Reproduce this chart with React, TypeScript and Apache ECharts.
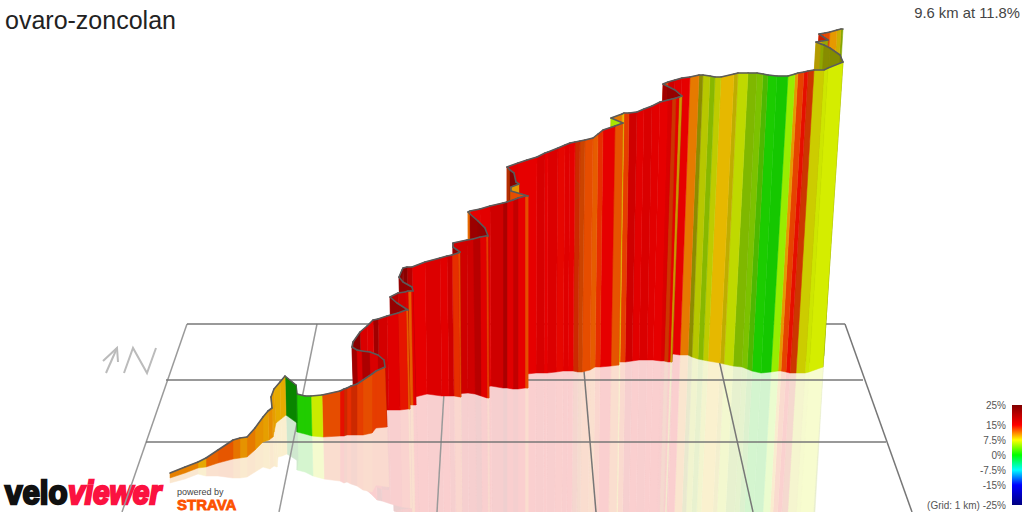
import { useEffect, useRef } from "react";
import * as echarts from "echarts";

// one row per ribbon vertex, in route order: [topX, topY, baseX, baseY, grade %, light]
// grade/light colour the strip from this vertex to the next one
type Vertex = [number, number, number, number, number, number?];

const startRamp: Vertex[] = [
  [170, 473, 170, 478, 10.8], [185, 467, 185, 473, 10.8], [198, 462, 198, 468, 9.5],
  [206, 458, 206, 467, 11.8], [218, 450, 218, 463, 12.2], [233, 440, 233, 459, 11.2],
  [240, 438, 240, 458, 10.2], [247, 437, 247, 457, 11], [255, 428, 255, 450, 10.2],
  [263, 417, 263, 442, 9.8], [268, 411, 269, 440, 10.4], [272, 408, 273, 437, 9.8],
  [271, 397, 274, 432, 9.8], [274, 389, 276, 423, 9.4], [280, 382, 281, 419, 9.4],
];
const firstDrop: Vertex[] = [
  [285, 376, 286, 415, 0.5, 0.52], [296, 385, 297, 423, 0.5, 0.52], [297, 394, 297, 432, 1.2, 0.8],
  [305, 396, 305, 434, 1.2, 0.8], [311, 396, 312, 436, 6.5, 0.92], [322, 395, 323, 437, 12.5],
  [340, 391, 340, 436, 14.5], [344, 389, 344, 436, 13.5, 0.8], [347, 388, 347, 435, 13.5],
  [351, 386, 351, 435, 13.5, 0.8], [357, 384, 357, 435, 13], [363, 380, 363, 435, 12.5],
  [372, 374, 372, 433, 13], [376, 371, 376, 428, 13],
];
const hairpin1: Vertex[] = [
  [385, 367, 387, 427, 22], [384, 360, 386, 425, 19], [378, 355, 380, 422, 16],
  [370, 352, 372, 419, 20], [362, 351, 364, 417, 16], [357, 350, 359, 415, 21],
  [352, 347, 354, 412, 23],
];
const leg2: Vertex[] = [
  [353, 342, 355, 410, 23], [360, 332, 362, 410, 16], [367, 326, 369, 410, 15.3],
  [373, 320, 375, 410, 21], [378, 319, 380, 410, 16.5], [387, 316, 389, 410, 15.5],
  [398, 313, 400, 410, 14.3], [406, 310, 408, 409, 12],
];
const hairpin2: Vertex[] = [
  [408, 310, 410, 409, 22], [397, 303, 399, 406, 22],
];
const leg3: Vertex[] = [
  [390, 297, 392, 404, 19], [398, 293, 400, 404, 17], [405, 292, 407, 404, 16],
  [408, 291, 410, 405, 12], [411, 291, 413, 405, 15.3],
];
const hairpin3: Vertex[] = [
  [413, 291, 416, 405, 22], [412, 287, 415, 403, 22], [403, 282, 406, 401, 22],
  [399, 277, 402, 400, 23], [402, 270, 405, 399, 23],
];
const leg4: Vertex[] = [
  [403, 268, 406, 398, 23], [407, 267, 410, 398, 19], [412, 267, 415, 397, 15],
  [425, 262, 427, 394, 15.8], [440, 258, 442, 396, 15.3], [447, 256, 449, 396, 17],
  [452, 255, 454, 396, 13.5], [458, 253, 460, 397, 12.5],
];
const hairpin4: Vertex[] = [
  [460, 252, 461, 397, 22], [453, 247, 455, 395, 22],
];
const leg5: Vertex[] = [
  [453, 243, 455, 394, 17], [467, 240, 468, 393, 17], [473, 239, 475, 394, 19],
  [480, 237, 481, 396, 15.5], [486, 236, 487, 398, 13],
];
const hairpin5: Vertex[] = [
  [488, 236, 489, 398, 22.5], [485, 228, 486, 396, 22], [478, 221, 479, 394, 21.5],
  [470, 214, 471, 392, 11.5],
];
const leg6: Vertex[] = [
  [468, 212, 469, 390, 11.5], [470, 211, 471, 390, 15], [480, 209, 481, 388, 15.2],
  [490, 206, 491, 386, 17], [503, 203, 503, 388, 20], [507, 202, 507, 388, 15.5],
  [513, 200, 513, 389, 18], [518, 198, 518, 389, 15], [525, 196, 525, 388, 12.5],
];
const hairpin6: Vertex[] = [
  [528, 196, 528, 388, 12.5], [511, 191, 511, 386, 10], [511, 187, 511, 385, 10],
  [519, 184, 519, 385, 22, 0.8], [516, 182, 516, 384, 22, 0.8], [514, 173, 514, 382, 22, 0.8],
  [510, 170, 510, 381, 13, 0.7],
];
const leg7: Vertex[] = [
  [507, 167, 507, 380, 15.5], [518, 163, 518, 377, 15], [527, 160, 527, 374, 15],
  [537, 157, 536, 373, 16.2], [545, 153, 544, 373, 15], [548, 152, 547, 373, 15.8],
  [558, 148, 556, 372, 14.8], [565, 145, 563, 371, 15.5], [570, 143, 568, 371, 15],
  [575, 142, 573, 371, 13.5, 0.8], [580, 141, 578, 372, 12.5, 0.8], [585, 140, 582, 372, 12.5],
  [593, 138, 590, 370, 12], [598, 134, 595, 367, 13.5], [603, 130, 600, 367, 15],
  [615, 126, 611, 366, 12.3],
];
const hairpin7: Vertex[] = [
  [623, 123, 619, 365, 5.5],
];
const leg8: Vertex[] = [
  [611, 118, 607, 360, 11], [622, 114, 618, 361, 9], [624, 113, 620, 362, 13],
  [629, 113, 625, 362, 17], [637, 112, 632, 361, 15.3], [644, 109, 639, 360, 16],
  [652, 106, 647, 360, 15.3], [660, 102, 653, 360, 15], [668, 100, 661, 361, 16],
  [672, 99, 664, 361, 13, 0.8], [676, 98, 668, 362, 15], [679, 97, 670, 362, 9.5, 0.8],
];
const hairpin8: Vertex[] = [
  [682, 96, 672, 362, 22], [675, 90, 665, 360, 22], [667, 86, 658, 358, 21],
];
const finalLeg: Vertex[] = [
  [663, 84, 655, 357, 13], [668, 82, 660, 357, 17], [675, 80, 666, 358, 15.5],
  [682, 78, 673, 354, 15], [690, 77, 680, 355, 11], [699, 75, 688, 355, 7.5, 0.55],
  [703, 75, 692, 357, 6.9, 0.78], [710, 76, 698, 359, 5.5, 0.72], [715, 77, 703, 360, 7, 0.8],
  [721, 77, 708, 361, 9], [734, 74, 720, 363, 8.2, 0.75], [738, 73, 724, 364, 6.6, 0.85],
  [748, 73, 733, 366, 5.2, 0.72], [757, 73, 742, 367, 4.8, 0.76], [763, 74, 747, 369, 3.2, 0.72],
  [768, 75, 752, 371, 1, 0.8], [777, 76, 761, 373, 0.8, 0.78], [788, 76, 771, 372, 4.8, 0.93],
  [795, 74, 778, 371, 10], [798, 73, 781, 371, 12.8], [804, 72, 786, 372, 14.5],
  [808, 71, 790, 373, 13, 0.8], [814, 70, 796, 373, 7.5, 0.8], [824, 70, 805, 373, 6.7, 0.9],
  [828, 68, 809, 372, 6.7, 0.93],
];
const topHairpin: Vertex[] = [
  [843, 62, 823, 367, 7, 0.5], [840, 55, 820, 365, 7, 0.55], [830, 48, 811, 363, 7.2, 0.55],
  [824, 45, 805, 361, 6.5, 0.65], [821, 44, 802, 360, 8.5, 0.7],
];
const summitLegs: Vertex[] = [
  [816, 42, 797, 358, 9, 0.8], [822, 41, 803, 358, 7, 0.65], [828, 40, 809, 358, 14, 0.8],
  [819, 34, 800, 356, 13], [825, 33, 806, 356, 12.5], [830, 32, 811, 356, 10],
  [837, 30, 818, 356, 8.5, 0.8], [841, 29, 822, 356, 6, 0.65], [843, 29, 824, 356, 6, 0.65],
];

const route: Vertex[] = [
  ...startRamp, ...firstDrop, ...hairpin1, ...leg2, ...hairpin2, ...leg3, ...hairpin3, ...leg4,
  ...hairpin4, ...leg5, ...hairpin5, ...leg6, ...hairpin6, ...leg7, ...hairpin7, ...leg8,
  ...hairpin8, ...finalLeg, ...topHairpin, ...summitLegs,
];

// ground grid, [x1, y1, x2, y2]
const gridRows = [
  [187, 324, 845, 324],
  [166, 380, 863, 380],
  [146, 442, 886, 442],
];
const gridCols = [
  [187, 324, 122, 512],
  [317, 324, 279, 512],
  [448, 324, 437, 512],
  [580, 324, 596, 512],
  [711, 324, 753, 512],
  [845, 324, 912, 512],
];

const scaleGrades = [-25, -15, -7.5, 0, 7.5, 15, 25];
const scaleColors = ["#000080", "#0000ff", "#00ffff", "#00ff00", "#ffff00", "#ff0000", "#800000"];
const scaleLabels = ["25%", "15%", "7.5%", "0%", "-7.5%", "-15%", "(Grid: 1 km) -25%"];
const scaleTicks = [25, 15, 7.5, 0, -7.5, -15, -25];

const FONT = "'Liberation Sans', Arial, sans-serif";
const BAR_TOP = 405;
const BAR_HEIGHT = 100;

function gradeRgb(grade: number, light: number) {
  let i = 0;
  while (i < scaleGrades.length - 2 && grade > scaleGrades[i + 1]) i++;
  const t = (grade - scaleGrades[i]) / (scaleGrades[i + 1] - scaleGrades[i]);
  const a = echarts.color.parse(scaleColors[i]);
  const b = echarts.color.parse(scaleColors[i + 1]);
  return [0, 1, 2].map((k) => (a[k] + (b[k] - a[k]) * t) * light);
}

const css = (c: number[]) => `rgb(${c.map(Math.round).join(",")})`;

// strips are drawn from the far end of the climb to the start, so nearer legs cover farther ones
const strips = route
  .slice(0, -1)
  .map((v, i) => {
    const n = route[i + 1];
    return [v[0], v[1], v[2], v[3], n[0], n[1], n[2], n[3], v[4], v[5] ?? 0.9];
  })
  .reverse();

const renderWall = (_: any, api: any) => {
  const t0 = api.coord([api.value(0), api.value(1)]);
  const b0 = api.coord([api.value(2), api.value(3)]);
  const t1 = api.coord([api.value(4), api.value(5)]);
  const b1 = api.coord([api.value(6), api.value(7)]);
  const fill = css(gradeRgb(api.value(8), api.value(9)));
  return {
    type: "group",
    children: [
      {
        type: "polygon",
        shape: { points: [t0, t1, b1, b0] },
        style: { fill, stroke: fill, lineWidth: 0.5 },
      },
      {
        type: "line",
        shape: { x1: t0[0], y1: t0[1], x2: t1[0], y2: t1[1] },
        style: { stroke: "#5a5a5a", lineWidth: 1.6, lineCap: "round" },
      },
    ],
  };
};

// the wall mirrored through its foot, washed out towards white
const renderMirror = (_: any, api: any) => {
  const t0 = [api.value(0), api.value(1)];
  const b0 = [api.value(2), api.value(3)];
  const t1 = [api.value(4), api.value(5)];
  const b1 = [api.value(6), api.value(7)];
  const m0 = [2 * b0[0] - t0[0], 2 * b0[1] - t0[1]];
  const m1 = [2 * b1[0] - t1[0], 2 * b1[1] - t1[1]];
  const rgb = gradeRgb(api.value(8), api.value(9)).map((c) => 255 - (255 - c) * 0.19);
  const fill = css(rgb);
  return {
    type: "polygon",
    shape: { points: [b0, b1, m1, m0].map((p) => api.coord(p)) },
    style: { fill, stroke: fill, lineWidth: 0.5 },
  };
};

const renderGridLine = (_: any, api: any) => {
  const a = api.coord([api.value(0), api.value(1)]);
  const b = api.coord([api.value(2), api.value(3)]);
  return {
    type: "line",
    shape: { x1: a[0], y1: a[1], x2: b[0], y2: b[1] },
    style: { stroke: api.value(4) || api.value(0) > 500 ? "#777777" : "#9a9a9a", lineWidth: 1.5 },
  };
};

const tx = (text: string, x: number, y: number, size: number, color: string, align = "left") => ({
  type: "text",
  x,
  y,
  silent: true,
  style: { text, fontFamily: FONT, fontSize: size, fill: color, align, verticalAlign: "middle" },
});

export default function App() {
  const ref = useRef<HTMLDivElement>(null);

  useEffect(() => {
    if (!ref.current) return;
    const chart = echarts.init(ref.current, undefined, { renderer: "svg" });
    chart.setOption({
      animation: false,
      backgroundColor: "#ffffff",
      grid: { left: 0, right: 0, top: 0, bottom: 0 },
      xAxis: { type: "value", min: 0, max: 1024, show: false },
      yAxis: { type: "value", min: 0, max: 512, inverse: true, show: false },
      series: [
        { type: "custom", z: 1, silent: true, renderItem: renderMirror, data: strips },
        {
          type: "custom",
          z: 2,
          silent: true,
          renderItem: renderGridLine,
          data: [...gridCols.map((l) => [...l, 0]), ...gridRows.map((l) => [...l, 1])],
        },
        { type: "custom", z: 3, silent: true, renderItem: renderWall, data: strips },
      ],
      graphic: [
        tx("ovaro-zoncolan", 5, 20, 25, "#222222"),
        tx("9.6 km at 11.8%", 1020, 13, 14.8, "#444444", "right"),
        ...scaleLabels.map((label, i) =>
          tx(label, 1006, BAR_TOP + ((25 - scaleTicks[i]) / 50) * BAR_HEIGHT, 10, "#555555", "right")
        ),
        {
          type: "rect",
          silent: true,
          shape: { x: 1012, y: BAR_TOP, width: 10, height: BAR_HEIGHT },
          style: {
            fill: new echarts.graphic.LinearGradient(
              0,
              0,
              0,
              1,
              scaleGrades.map((g, i) => ({ offset: (25 - g) / 50, color: scaleColors[i] })).reverse()
            ),
          },
        },
        // north arrow and N
        {
          type: "polyline",
          silent: true,
          shape: { points: [[106, 373], [117, 348]] },
          style: { stroke: "#bbbbbb", lineWidth: 2, fill: "none" },
        },
        {
          type: "polyline",
          silent: true,
          shape: { points: [[103, 361], [117, 348], [118, 362]] },
          style: { stroke: "#bbbbbb", lineWidth: 2, fill: "none" },
        },
        {
          type: "polyline",
          silent: true,
          shape: { points: [[124, 373], [133, 348], [147, 373], [156, 348]] },
          style: { stroke: "#bbbbbb", lineWidth: 2, fill: "none" },
        },
        // logos
        {
          type: "text",
          x: 5,
          y: 509,
          scaleX: 0.92,
          silent: true,
          style: {
            text: "velo",
            fontFamily: FONT,
            fontSize: 34,
            fontWeight: "bold",
            fill: "#111111",
            stroke: "#111111",
            lineWidth: 2.4,
            verticalAlign: "bottom",
          },
        },
        {
          type: "text",
          x: 68,
          y: 509,
          scaleX: 0.88,
          silent: true,
          style: {
            text: "viewer",
            fontFamily: FONT,
            fontSize: 34,
            fontWeight: "bold",
            fontStyle: "italic",
            fill: "#fb1240",
            stroke: "#fb1240",
            lineWidth: 2.4,
            verticalAlign: "bottom",
          },
        },
        tx("powered by", 177, 492, 9, "#444444"),
        {
          type: "text",
          x: 177,
          y: 504,
          silent: true,
          style: {
            text: "STRAVA",
            fontFamily: FONT,
            fontSize: 15,
            fontWeight: "bold",
            fill: "#fc5200",
            stroke: "#fc5200",
            lineWidth: 0.8,
            verticalAlign: "middle",
          },
        },
      ],
    });
    return () => chart.dispose();
  }, []);

  return <div ref={ref} style={{ position: "fixed", left: 0, top: 0, width: 1024, height: 512 }} />;
}
